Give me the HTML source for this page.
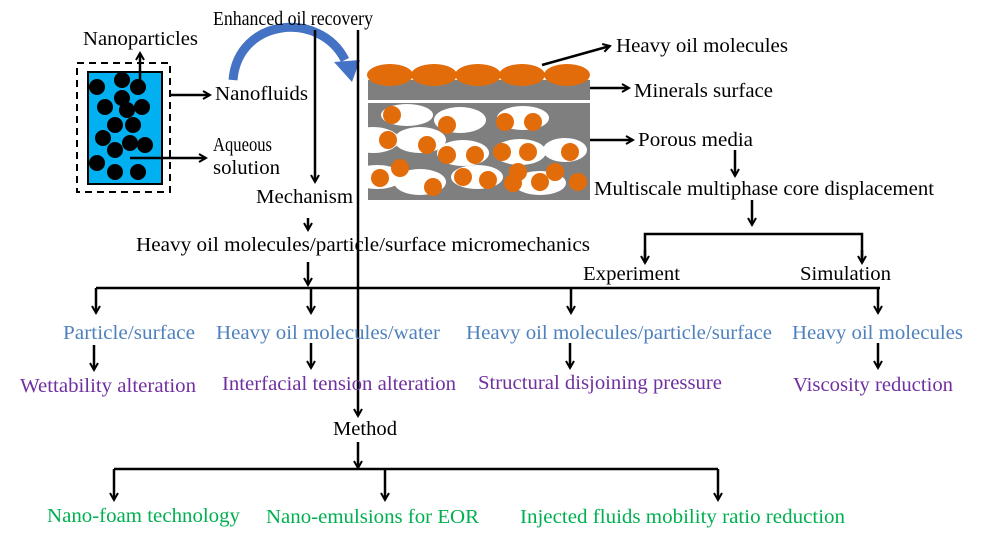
<!DOCTYPE html>
<html><head><meta charset="utf-8"><style>
html,body{margin:0;padding:0;background:#fff;}
svg{display:block;}
text{font-family:"Liberation Serif",serif;font-size:20px;}
</style></head><body>
<svg width="1000" height="539" viewBox="0 0 1000 539" xmlns="http://www.w3.org/2000/svg">
<defs>
<marker id="a" markerWidth="10" markerHeight="10" refX="8" refY="5" orient="auto" markerUnits="userSpaceOnUse">
<path d="M1,1 L8,5 L1,9" fill="none" stroke="#000" stroke-width="2"/>
</marker>
</defs>
<g stroke="#000" stroke-width="2.5" fill="none">
<rect x="77" y="63" width="93" height="129" stroke-dasharray="7,5" stroke-width="2"/>
</g>
<rect x="88" y="72" width="74" height="112" fill="#00b0f0" stroke="#000" stroke-width="2"/>
<g fill="#000">
<circle cx="97" cy="87" r="8"/><circle cx="122" cy="80" r="8"/><circle cx="138" cy="87" r="8"/>
<circle cx="105" cy="107" r="8"/><circle cx="122" cy="98" r="8"/><circle cx="127" cy="110" r="8"/><circle cx="142" cy="107" r="8"/>
<circle cx="115" cy="125" r="8"/><circle cx="133" cy="125" r="8"/>
<circle cx="103" cy="138" r="8"/><circle cx="115" cy="150" r="8"/><circle cx="130" cy="143" r="8"/><circle cx="145" cy="145" r="8"/>
<circle cx="97" cy="163" r="8"/><circle cx="115" cy="172" r="8"/><circle cx="138" cy="172" r="8"/>
</g>
<rect x="368" y="80" width="222" height="20" fill="#7f7f7f"/>
<rect x="368" y="103" width="222" height="97" fill="#7f7f7f"/>
<g fill="#e36c0a">
<ellipse cx="390" cy="75" rx="23" ry="11"/><ellipse cx="434" cy="75" rx="23" ry="11"/><ellipse cx="478" cy="75" rx="23" ry="11"/><ellipse cx="522" cy="75" rx="23" ry="11"/><ellipse cx="567" cy="75" rx="23" ry="11"/>
</g>
<g fill="#fff">
<ellipse cx="407" cy="115" rx="26" ry="11"/><ellipse cx="460" cy="120" rx="26" ry="13"/><ellipse cx="523" cy="118" rx="26" ry="12"/>
<ellipse cx="373" cy="140" rx="26" ry="13"/><ellipse cx="420" cy="140" rx="26" ry="13"/><ellipse cx="463" cy="153" rx="26" ry="13"/><ellipse cx="520" cy="152" rx="26" ry="13"/><ellipse cx="565" cy="150" rx="22" ry="12"/>
<ellipse cx="377" cy="177" rx="26" ry="12"/><ellipse cx="420" cy="182" rx="26" ry="13"/><ellipse cx="477" cy="177" rx="26" ry="12"/><ellipse cx="540" cy="183" rx="26" ry="12"/>
</g>
<g fill="#e36c0a">
<circle cx="392" cy="115" r="9"/><circle cx="447" cy="125" r="9"/><circle cx="505" cy="122" r="9"/><circle cx="533" cy="122" r="9"/>
<circle cx="388" cy="140" r="9"/><circle cx="427" cy="145" r="9"/><circle cx="447" cy="155" r="9"/><circle cx="475" cy="155" r="9"/><circle cx="502" cy="152" r="9"/><circle cx="528" cy="152" r="9"/><circle cx="570" cy="152" r="9"/>
<circle cx="380" cy="178" r="9"/><circle cx="400" cy="168" r="9"/><circle cx="433" cy="187" r="9"/><circle cx="463" cy="177" r="9"/><circle cx="488" cy="180" r="9"/><circle cx="518" cy="172" r="9"/><circle cx="513" cy="183" r="9"/><circle cx="540" cy="182" r="9"/><circle cx="555" cy="172" r="9"/><circle cx="578" cy="182" r="9"/>
</g>
<path d="M233,80 C238,18 320,10 345,60" fill="none" stroke="#4472c4" stroke-width="9"/>
<path d="M334,62 L360,60 L352,82 Z" fill="#4472c4"/>
<g stroke="#000" stroke-width="2.5" fill="none">
<line x1="140" y1="87" x2="140" y2="53" marker-end="url(#a)"/>
<line x1="170" y1="95" x2="210" y2="95" marker-end="url(#a)"/>
<line x1="130" y1="158" x2="206" y2="158" marker-end="url(#a)"/>
<line x1="315" y1="30" x2="315" y2="182" marker-end="url(#a)"/>
<line x1="358" y1="30" x2="358" y2="416" marker-end="url(#a)"/>
<line x1="542" y1="65" x2="610" y2="46" marker-end="url(#a)"/>
<line x1="590" y1="88" x2="629" y2="88" marker-end="url(#a)"/>
<line x1="590" y1="140" x2="633" y2="140" marker-end="url(#a)"/>
<line x1="735" y1="150" x2="735" y2="176" marker-end="url(#a)"/>
<line x1="752" y1="200" x2="752" y2="225" marker-end="url(#a)"/>
<polyline points="645,262 645,234 862,234 862,262"/>
<line x1="645" y1="250" x2="645" y2="263" marker-end="url(#a)"/>
<line x1="862" y1="250" x2="862" y2="263" marker-end="url(#a)"/>
<line x1="308" y1="218" x2="308" y2="230" marker-end="url(#a)"/>
<line x1="308" y1="262" x2="308" y2="285" marker-end="url(#a)"/>
<line x1="96" y1="288" x2="880" y2="288"/>
<line x1="96" y1="288" x2="96" y2="313" marker-end="url(#a)"/>
<line x1="311" y1="288" x2="311" y2="313" marker-end="url(#a)"/>
<line x1="571" y1="288" x2="571" y2="313" marker-end="url(#a)"/>
<line x1="878" y1="288" x2="878" y2="313" marker-end="url(#a)"/>
<line x1="94" y1="345" x2="94" y2="370" marker-end="url(#a)"/>
<line x1="311" y1="343" x2="311" y2="368" marker-end="url(#a)"/>
<line x1="570" y1="343" x2="570" y2="368" marker-end="url(#a)"/>
<line x1="878" y1="343" x2="878" y2="368" marker-end="url(#a)"/>
<line x1="358" y1="442" x2="358" y2="468" marker-end="url(#a)"/>
<line x1="114" y1="469" x2="718" y2="469"/>
<line x1="114" y1="469" x2="114" y2="500" marker-end="url(#a)"/>
<line x1="385" y1="469" x2="385" y2="500" marker-end="url(#a)"/>
<line x1="718" y1="469" x2="718" y2="500" marker-end="url(#a)"/>
</g>
<g fill="#000">
<text x="213" y="25" textLength="160" lengthAdjust="spacingAndGlyphs">Enhanced oil recovery</text>
<text x="83" y="45" textLength="115" lengthAdjust="spacingAndGlyphs">Nanoparticles</text>
<text x="215" y="100" textLength="93" lengthAdjust="spacingAndGlyphs">Nanofluids</text>
<text x="213" y="151" textLength="59" lengthAdjust="spacingAndGlyphs">Aqueous</text>
<text x="213" y="174" textLength="67" lengthAdjust="spacingAndGlyphs">solution</text>
<text x="256" y="203" textLength="97" lengthAdjust="spacingAndGlyphs">Mechanism</text>
<text x="616" y="52" textLength="172" lengthAdjust="spacingAndGlyphs">Heavy oil molecules</text>
<text x="634" y="97" textLength="139" lengthAdjust="spacingAndGlyphs">Minerals surface</text>
<text x="638" y="146" textLength="115" lengthAdjust="spacingAndGlyphs">Porous media</text>
<text x="594" y="195" textLength="340" lengthAdjust="spacingAndGlyphs">Multiscale multiphase core displacement</text>
<text x="136" y="251" textLength="454" lengthAdjust="spacingAndGlyphs">Heavy oil molecules/particle/surface micromechanics</text>
<text x="583" y="280" textLength="97" lengthAdjust="spacingAndGlyphs">Experiment</text>
<text x="800" y="280" textLength="91" lengthAdjust="spacingAndGlyphs">Simulation</text>
<text x="333" y="435" textLength="64" lengthAdjust="spacingAndGlyphs">Method</text>
</g>
<g fill="#4f81bd">
<text x="63" y="339" textLength="132" lengthAdjust="spacingAndGlyphs">Particle/surface</text>
<text x="216" y="339" textLength="224" lengthAdjust="spacingAndGlyphs">Heavy oil molecules/water</text>
<text x="466" y="339" textLength="306" lengthAdjust="spacingAndGlyphs">Heavy oil molecules/particle/surface</text>
<text x="792" y="339" textLength="171" lengthAdjust="spacingAndGlyphs">Heavy oil molecules</text>
</g>
<g fill="#7030a0">
<text x="20" y="392" textLength="176" lengthAdjust="spacingAndGlyphs">Wettability alteration</text>
<text x="222" y="390" textLength="234" lengthAdjust="spacingAndGlyphs">Interfacial tension alteration</text>
<text x="478" y="389" textLength="244" lengthAdjust="spacingAndGlyphs">Structural disjoining pressure</text>
<text x="793" y="391" textLength="160" lengthAdjust="spacingAndGlyphs">Viscosity reduction</text>
</g>
<g fill="#00b050">
<text x="47" y="522" textLength="193" lengthAdjust="spacingAndGlyphs">Nano-foam technology</text>
<text x="266" y="523" textLength="213" lengthAdjust="spacingAndGlyphs">Nano-emulsions for EOR</text>
<text x="520" y="523" textLength="325" lengthAdjust="spacingAndGlyphs">Injected fluids mobility ratio reduction</text>
</g>
</svg>
</body></html>
